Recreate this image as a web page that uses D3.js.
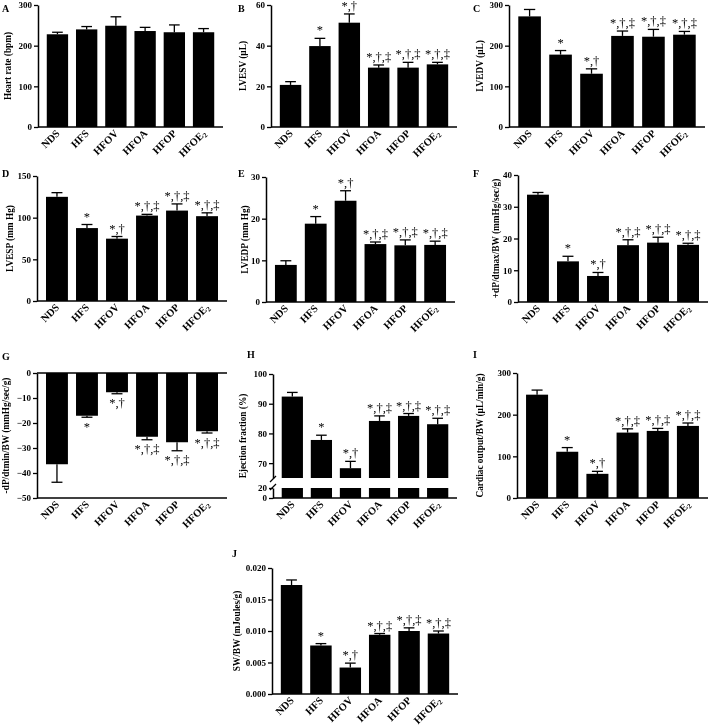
<!DOCTYPE html>
<html>
<head>
<meta charset="utf-8">
<script src="https://cdn.jsdelivr.net/npm/d3@7"></script>
<style>
body { margin: 0; background: #fff; }
svg { will-change: transform; }
svg text { font-family: "Liberation Serif", "Times New Roman", serif; fill: #000; }
</style>
</head>
<body>
<svg id="fig" width="709" height="728"></svg>
<script>
// groups and significance marks
const groups = ["NDS", "HFS", "HFOV", "HFOA", "HFOP", "HFOE2"];
const sigMarks = ["", "*", "*,†", "*,†,‡", "*,†,‡", "*,†,‡"];
const noMarks = ["", "", "", "", "", ""];

// values (mean, error)
const heartRate = [228, 240, 249, 236, 233, 233];
const heartRateErr = [5, 7, 22, 9, 18, 9];
const lvesv = [20.7, 39.8, 51.3, 29.2, 29.2, 30.8];
const lvesvErr = [1.6, 3.8, 4.3, 1.3, 2.6, 1.0];
const lvedv = [272, 178, 131, 224, 222, 227];
const lvedvErr = [17, 10, 12, 12, 18, 8];
const lvesp = [125, 87.5, 74.8, 102.5, 108.5, 101.8];
const lvespErr = [5, 4.3, 2.6, 1.5, 8, 4];
const lvedp = [8.9, 18.8, 24.3, 13.9, 13.6, 13.7];
const lvedpErr = [1.0, 1.7, 2.4, 0.5, 1.3, 0.9];
const dpdtMax = [33.8, 12.8, 8.2, 17.9, 18.7, 18.0];
const dpdtMaxErr = [0.7, 1.6, 1.1, 1.7, 1.7, 0.5];
const dpdtMin = [-36.5, -17.1, -7.7, -25.5, -27.7, -23.3];
const dpdtMinErr = [7.2, 0.6, 0.6, 1.2, 3.4, 0.7];
const ejection = [92.4, 77.8, 68.3, 84.2, 85.9, 83.1];
const ejectionErr = [1.4, 1.6, 2.3, 1.7, 0.8, 2.0];
const cardiacOut = [248, 111, 58, 157, 161, 173];
const cardiacOutErr = [11, 10, 6, 9, 6, 7];
const strokeWork = [0.0173, 0.0077, 0.0042, 0.0094, 0.0100, 0.0096];
const strokeWorkErr = [0.0008, 0.0003, 0.0007, 0.0002, 0.0005, 0.0004];

// tick labels
const ticks300 = [0, 100, 200, 300];
const ticks60 = [0, 20, 40, 60];
const ticks150 = [0, 50, 100, 150];
const ticks30 = [0, 10, 20, 30];
const ticks40 = [0, 10, 20, 30, 40];
const ticksNeg50 = [0, -10, -20, -30, -40, -50];
const ticksEfUpper = [70, 80, 90, 100];
const ticksEfLower = [0, 20];
const ticksSw = [0, 0.005, 0.010, 0.015, 0.020];

const svg = d3.select("#fig");
const intFmt = d3.format("d");

const panels = [
  {letter: "A", lx: 2, ly: 12, x0: 38, x1: 223, top: 5, bot: 127, domain: [0, 300], ticks: ticks300,
   title: "Heart rate (bpm)", tOff: -29, vals: heartRate, errs: heartRateErr, marks: noMarks},
  {letter: "B", lx: 238, ly: 12, x0: 271, x1: 457, top: 5, bot: 127, domain: [0, 60], ticks: ticks60,
   title: "LVESV (µL)", tOff: -27, vals: lvesv, errs: lvesvErr, marks: sigMarks},
  {letter: "C", lx: 473, ly: 12, x0: 509, x1: 705, top: 5, bot: 127, domain: [0, 300], ticks: ticks300,
   title: "LVEDV (µL)", tOff: -28, vals: lvedv, errs: lvedvErr, marks: sigMarks},
  {letter: "D", lx: 2, ly: 177, x0: 37, x1: 227, top: 176, bot: 301, domain: [0, 150], ticks: ticks150,
   title: "LVESP (mm Hg)", tOff: -26, vals: lvesp, errs: lvespErr, marks: sigMarks},
  {letter: "E", lx: 238, ly: 177, x0: 266, x1: 455, top: 177, bot: 302, domain: [0, 30], ticks: ticks30,
   title: "LVEDP (mm Hg)", tOff: -20, vals: lvedp, errs: lvedpErr, marks: sigMarks},
  {letter: "F", lx: 473, ly: 177, x0: 518, x1: 708, top: 175, bot: 302, domain: [0, 40], ticks: ticks40,
   title: "+dP/dtmax/BW (mmHg/sec/g)", tOff: -21, vals: dpdtMax, errs: dpdtMaxErr, marks: sigMarks},
  {letter: "G", lx: 2, ly: 360, x0: 37, x1: 227, top: 498, bot: 373, domain: [-50, 0], ticks: ticksNeg50,
   title: "-dP/dtmin/BW (mmHg/sec/g)", tOff: -30, vals: dpdtMin, errs: dpdtMinErr, marks: sigMarks, neg: true},
  {letter: "I", lx: 473, ly: 358, x0: 517, x1: 708, top: 373, bot: 498, domain: [0, 300], ticks: ticks300,
   title: "Cardiac output/BW (µL/min/g)", tOff: -36, vals: cardiacOut, errs: cardiacOutErr, marks: sigMarks},
  {letter: "J", lx: 232, ly: 557, x0: 272, x1: 458, top: 568, bot: 694, domain: [0, 0.02], ticks: ticksSw,
   fmt: d3.format(".3f"), title: "SW/BW (mJoules/g)", tOff: -34, vals: strokeWork, errs: strokeWorkErr, marks: sigMarks}
];

function styleAxis(g) {
  g.select(".domain").attr("stroke", "#000").attr("stroke-width", 1.5);
  g.selectAll(".tick line").attr("stroke", "#000").attr("stroke-width", 1.3);
  g.selectAll(".tick text").attr("font-size", 9).attr("font-weight", "bold")
    .attr("font-family", "Liberation Serif").attr("fill", "#000");
}

function xLabels(g, x, yAx) {
  const lab = g.selectAll(".xl").data(groups).enter().append("text")
    .attr("class", "xl")
    .attr("text-anchor", "end")
    .attr("font-size", 10.5)
    .attr("font-weight", "bold")
    .attr("transform", d => "translate(" + (x(d) + x.bandwidth() / 2 + 3) + "," + (yAx + 7) + ") rotate(-45)");
  lab.append("tspan").text(d => d.replace(/2$/, ""));
  lab.filter(d => /2$/.test(d)).append("tspan").attr("font-size", 7).attr("dy", 2).text("2");
}

function panelFrame(g, p, yMid) {
  g.append("text").attr("x", p.lx).attr("y", p.ly).text(p.letter)
    .attr("font-family", "Liberation Sans").attr("font-weight", "bold").attr("font-size", 10);
  g.append("text")
    .attr("transform", "translate(" + (p.x0 + p.tOff) + "," + yMid + ") rotate(-90)")
    .attr("text-anchor", "middle").attr("dominant-baseline", "middle")
    .attr("font-size", 9.3).attr("font-weight", "bold").text(p.title);
}

function addMarks(g, rows, xc, yy) {
  g.selectAll(".mark").data(rows).enter().append("text")
    .attr("x", xc).attr("y", yy)
    .attr("text-anchor", "middle").attr("font-size", 12.5).attr("fill", "#000")
    .text(d => d.m);
}

panels.forEach(p => {
  const g = svg.append("g");
  const x = d3.scaleBand().domain(groups).range([p.x0, p.x1]).paddingInner(0.27).paddingOuter(0.3);
  const y = d3.scaleLinear().domain(p.domain).range([p.neg ? p.top : p.bot, p.neg ? p.bot : p.top]);
  const bw = x.bandwidth();
  const rows = groups.map((k, i) => ({k: k, v: p.vals[i], e: p.errs[i], m: p.marks[i]}));

  g.selectAll(".bar").data(rows).enter().append("rect")
    .attr("x", d => x(d.k)).attr("width", bw)
    .attr("y", d => Math.min(y(0), y(d.v)))
    .attr("height", d => Math.abs(y(d.v) - y(0)))
    .attr("fill", "#000");

  const tip = d => p.neg ? d.v - d.e : d.v + d.e;
  g.selectAll(".err").data(rows).enter().append("line")
    .attr("x1", d => x(d.k) + bw / 2).attr("x2", d => x(d.k) + bw / 2)
    .attr("y1", d => y(d.v)).attr("y2", d => y(tip(d)))
    .attr("stroke", "#000").attr("stroke-width", 1.3);
  g.selectAll(".cap").data(rows).enter().append("line")
    .attr("x1", d => x(d.k) + bw * 0.25).attr("x2", d => x(d.k) + bw * 0.75)
    .attr("y1", d => y(tip(d))).attr("y2", d => y(tip(d)))
    .attr("stroke", "#000").attr("stroke-width", 1.3);

  addMarks(g, rows, d => x(d.k) + bw / 2, d => p.neg ? y(tip(d)) + 13.5 : y(tip(d)) - 4);

  const ax = g.append("g").attr("transform", "translate(" + p.x0 + ",0)")
    .call(d3.axisLeft(y).tickValues(p.ticks).tickFormat(p.fmt || intFmt).tickSize(4).tickSizeOuter(0).tickPadding(2));
  styleAxis(ax);

  const yAx = p.neg ? y(p.domain[0]) : y(0);
  g.append("line").attr("x1", p.x0).attr("x2", p.x1).attr("y1", yAx).attr("y2", yAx)
    .attr("stroke", "#000").attr("stroke-width", 1.5);
  if (p.neg) {
    g.append("line").attr("x1", p.x0).attr("x2", p.x1).attr("y1", y(0)).attr("y2", y(0))
      .attr("stroke", "#000").attr("stroke-width", 1.5);
  }
  xLabels(g, x, yAx);
  panelFrame(g, p, (p.top + p.bot) / 2);
});

// panel H: broken y axis
(function () {
  const p = {letter: "H", lx: 247, ly: 358, x0: 273, x1: 457, title: "Ejection fraction (%)", tOff: -29};
  const g = svg.append("g");
  const x = d3.scaleBand().domain(groups).range([p.x0, p.x1]).paddingInner(0.27).paddingOuter(0.3);
  const yUp = d3.scaleLinear().domain([65, 100]).range([478, 374]);
  const yLow = d3.scaleLinear().domain([0, 20]).range([498, 488]);
  const bw = x.bandwidth();
  const rows = groups.map((k, i) => ({k: k, v: ejection[i], e: ejectionErr[i], m: sigMarks[i]}));

  g.selectAll(".barU").data(rows).enter().append("rect")
    .attr("x", d => x(d.k)).attr("width", bw)
    .attr("y", d => yUp(d.v)).attr("height", d => yUp(65) - yUp(d.v)).attr("fill", "#000");
  g.selectAll(".barL").data(rows).enter().append("rect")
    .attr("x", d => x(d.k)).attr("width", bw)
    .attr("y", yLow(20)).attr("height", yLow(0) - yLow(20)).attr("fill", "#000");

  g.selectAll(".err").data(rows).enter().append("line")
    .attr("x1", d => x(d.k) + bw / 2).attr("x2", d => x(d.k) + bw / 2)
    .attr("y1", d => yUp(d.v)).attr("y2", d => yUp(d.v + d.e))
    .attr("stroke", "#000").attr("stroke-width", 1.3);
  g.selectAll(".cap").data(rows).enter().append("line")
    .attr("x1", d => x(d.k) + bw * 0.25).attr("x2", d => x(d.k) + bw * 0.75)
    .attr("y1", d => yUp(d.v + d.e)).attr("y2", d => yUp(d.v + d.e))
    .attr("stroke", "#000").attr("stroke-width", 1.3);
  addMarks(g, rows, d => x(d.k) + bw / 2, d => yUp(d.v + d.e) - 4);

  const axU = g.append("g").attr("transform", "translate(" + p.x0 + ",0)")
    .call(d3.axisLeft(yUp).tickValues(ticksEfUpper).tickFormat(intFmt).tickSize(4).tickSizeOuter(0).tickPadding(2));
  styleAxis(axU);
  const axL = g.append("g").attr("transform", "translate(" + p.x0 + ",0)")
    .call(d3.axisLeft(yLow).tickValues(ticksEfLower).tickFormat(intFmt).tickSize(4).tickSizeOuter(0).tickPadding(2));
  styleAxis(axL);

  // break marks
  [yUp(65) + 1, yLow(20) - 1].forEach(yy => {
    g.append("line").attr("x1", p.x0 - 3).attr("x2", p.x0 + 3).attr("y1", yy + 3).attr("y2", yy - 3)
      .attr("stroke", "#000").attr("stroke-width", 1.2);
  });

  g.append("line").attr("x1", p.x0).attr("x2", p.x1).attr("y1", yLow(0)).attr("y2", yLow(0))
    .attr("stroke", "#000").attr("stroke-width", 1.5);
  xLabels(g, x, yLow(0));
  panelFrame(g, p, (374 + 498) / 2);
})();
</script>
</body>
</html>
